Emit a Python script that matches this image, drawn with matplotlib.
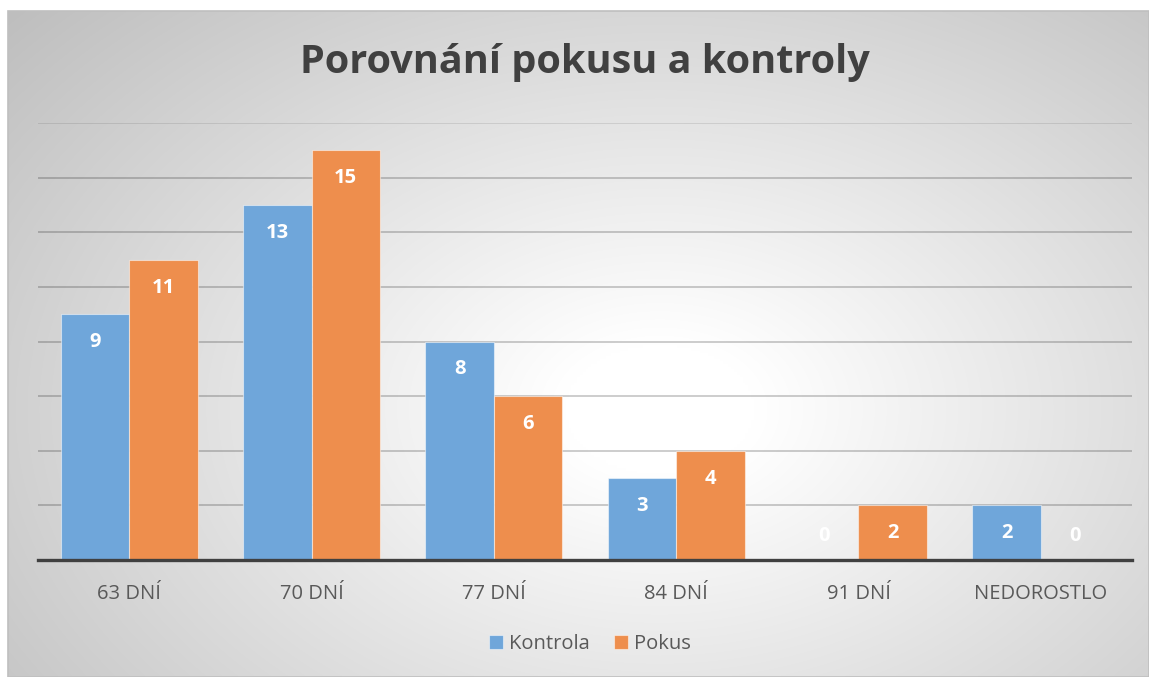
import numpy as np
import matplotlib
matplotlib.use("Agg")
import matplotlib.pyplot as plt
from matplotlib.patches import Rectangle

categories = ["63 DNÍ", "70 DNÍ", "77 DNÍ", "84 DNÍ", "91 DNÍ", "NEDOROSTLO"]
kontrola = [9, 13, 8, 3, 0, 2]
pokus = [11, 15, 6, 4, 2, 0]
series_names = ["Kontrola", "Pokus"]
title = "Porovnání pokusu a kontroly"

W, H = 1149, 677
plt.rcParams['font.family'] = ['Open Sans', 'DejaVu Sans']
fig = plt.figure(figsize=(W / 100, H / 100), dpi=100)

# background with radial gradient
bg = fig.add_axes([0, 0, 1, 1])
bg.set_xlim(0, W)
bg.set_ylim(H, 0)
bg.axis("off")
x0, y0, x1, y1 = 8, 11, W, H
xx, yy = np.meshgrid(np.linspace(x0, x1, 400), np.linspace(y0, y1, 250))
cx, cy = 660, 410
d = np.sqrt(((xx - cx) / 640) ** 2 + ((yy - cy) / 440) ** 2)
g = 1 - 0.21 * np.clip(d - 0.15, 0, None)
g = np.clip(g, 0, 1)
img = np.dstack([g, g, g])
bg.imshow(img, extent=(x0, x1, y1, y0), aspect="auto", interpolation="bilinear", zorder=0)
bg.add_patch(Rectangle((x0, y0), x1 - x0, y1 - y0, fill=False, edgecolor="#bfbfbf", lw=1.2, zorder=1))

ax = fig.add_axes([38 / W, 1 - 560 / H, (1132 - 38) / W, (560 - 123) / H])
ax.patch.set_alpha(0)
n = len(categories)
x = np.arange(n)
bw = 0.375
c_blue = "#6fa6da"
c_orange = "#ee8e4d"
b1 = ax.bar(x - bw / 2, kontrola, bw, color=c_blue, edgecolor=(1, 1, 1, 0.5), lw=0.8, zorder=3, label=series_names[0])
b2 = ax.bar(x + bw / 2, pokus, bw, color=c_orange, edgecolor=(1, 1, 1, 0.5), lw=0.8, zorder=3, label=series_names[1])

ax.set_xlim(-0.5, n - 0.5)
ax.set_ylim(0, 16)
ax.set_yticks(np.arange(2, 17, 2))
for yv in np.arange(2, 17, 2):
    ax.axhline(yv, color="black", alpha=0.12 if yv == 16 else 0.25, lw=1.1, zorder=1)
ax.tick_params(axis="y", left=False, labelleft=False)
ax.tick_params(axis="x", bottom=False, labelsize=14.5, labelcolor="#595959", pad=14)
ax.set_xticks(x)
ax.set_xticklabels(categories)
for s in ["top", "right", "left"]:
    ax.spines[s].set_visible(False)
ax.spines["bottom"].set_color("#404040")
ax.spines["bottom"].set_linewidth(2.4)
ax.spines["bottom"].set_zorder(5)

for bars, vals in ((b1, kontrola), (b2, pokus)):
    for b, v in zip(bars, vals):
        off = 24 if v == 0 else -28
        ax.annotate(str(v), (b.get_x() + b.get_width() / 2, v), xytext=(0, off),
                    textcoords="offset pixels", ha="center", va="center",
                    color="white", fontsize=14.5, fontweight="bold", zorder=6)

fig.text(585 / W, 1 - 63 / H, title, ha="center", va="center", fontsize=28.5,
         fontweight="bold", color="#404040")

leg = fig.legend(handles=[b1, b2], labels=series_names, loc="center",
                 bbox_to_anchor=(590 / W, 1 - 644 / H), ncol=2, frameon=False,
                 fontsize=14.5, handlelength=0.7, handleheight=0.7, handletextpad=0.3,
                 columnspacing=1.2, labelcolor="#595959")

fig.savefig("out.png", dpi=100)
